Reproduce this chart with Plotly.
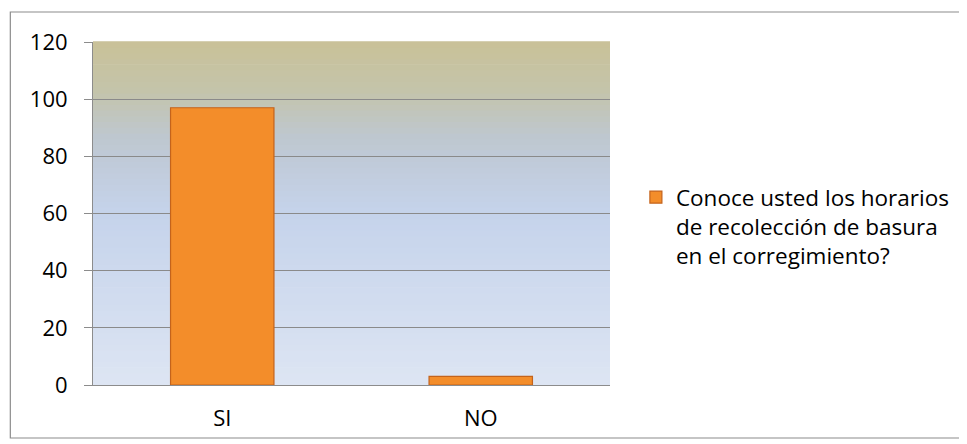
import plotly.graph_objects as go

categories = ["SI", "NO"]
values = [97, 3]
series_name = "Conoce usted los horarios<br>de recolección de basura<br>en el corregimiento?"
y_ticks = [0, 20, 40, 60, 80, 100, 120]

# page body has an 8px margin; work in figure pixel coords (reference - 8)
W, H = 959, 436
L, R, T, B = 85, 355, 34, 59
pw, ph = W - L - R, H - T - B

fig = go.Figure()
fig.add_trace(go.Bar(
    x=categories, y=values, name=series_name, width=0.4,
    marker=dict(color="#F38D2A", line=dict(color="#C4631B", width=1.2)),
    showlegend=True,
))

stops = [(0.0, (221, 229, 243)), (0.5, (197, 211, 235)), (0.72, (190, 199, 208)),
         (0.86, (196, 196, 170)), (1.0, (201, 193, 152))]

def col(t):
    for i in range(len(stops) - 1):
        a, ca = stops[i]
        b, cb = stops[i + 1]
        if a <= t <= b:
            f = (t - a) / (b - a)
            return "rgb(%d,%d,%d)" % tuple(round(ca[k] + (cb[k] - ca[k]) * f) for k in range(3))
    return "rgb(%d,%d,%d)" % stops[-1][1]

n = 60
shapes = []
for i in range(n):
    y0 = i / n
    y1 = (i + 1) / n
    shapes.append(dict(type="rect", xref="x domain", yref="y domain", x0=0, x1=1, y0=y0, y1=y1 + 0.002,
                       fillcolor=col((i + 0.5) / n), line=dict(width=0), layer="below"))

def px_x(p):
    return (p - L) / pw

def px_y(p):
    return (H - B - p) / ph

shapes.append(dict(type="rect", xref="paper", yref="paper",
                   x0=px_x(2), x1=px_x(957), y0=px_y(430), y1=px_y(4),
                   line=dict(color="#8C8C8C", width=1.2), fillcolor="rgba(0,0,0,0)"))

fig.update_layout(
    width=W, height=H,
    margin=dict(l=L, r=R, t=T, b=B),
    paper_bgcolor="white", plot_bgcolor="rgba(0,0,0,0)",
    shapes=shapes,
    font=dict(family="Open Sans", size=22, color="black"),
    legend=dict(x=px_x(630), y=px_y(168), xanchor="left", yanchor="top", valign="top",
                font=dict(size=22.5), tracegroupgap=0, itemwidth=30),
    bargap=0.6,
)
fig.update_xaxes(showgrid=False, showline=True, linecolor="#8C8C8C", linewidth=1,
                 ticks="", ticklabelstandoff=14, tickfont=dict(size=22))
fig.update_yaxes(range=[0, 120], tickvals=y_ticks, showgrid=True, gridcolor="#8A8A8A", gridwidth=1,
                 showline=True, linecolor="#8C8C8C", linewidth=1, zeroline=False,
                 ticks="outside", ticklen=8, tickcolor="#8C8C8C", ticklabelstandoff=12,
                 tickfont=dict(size=22))

fig.write_html("out.html")
